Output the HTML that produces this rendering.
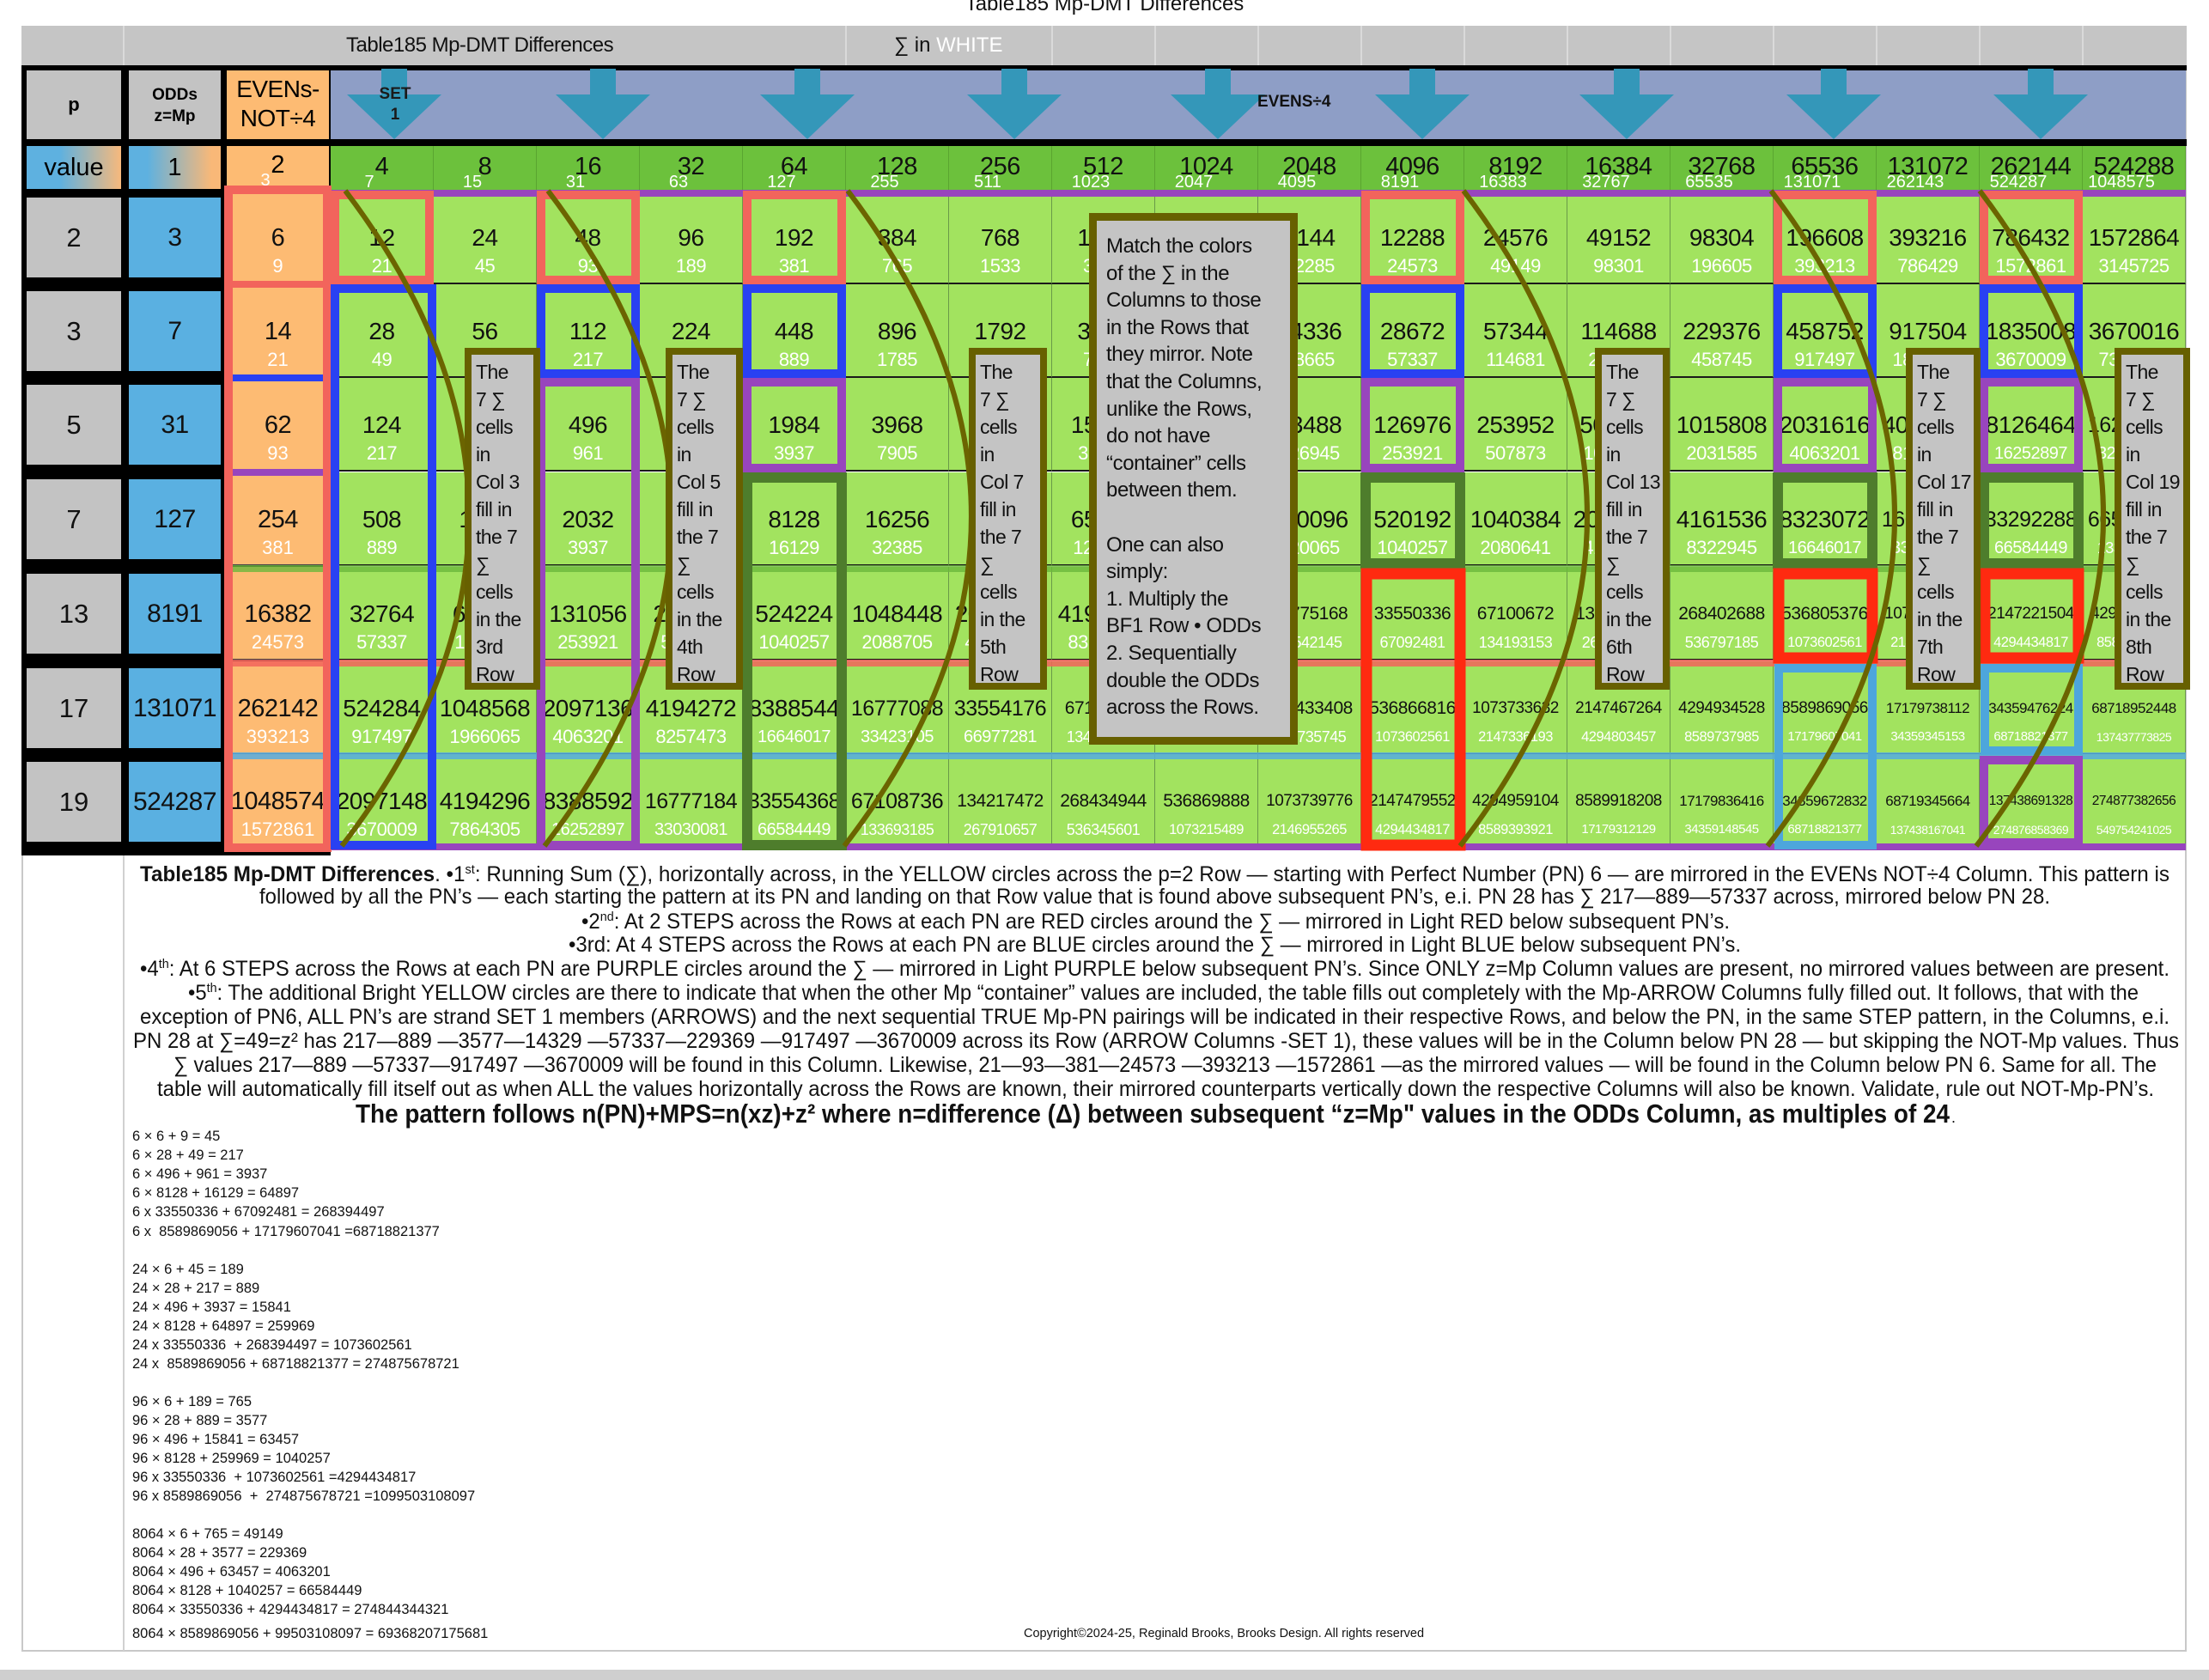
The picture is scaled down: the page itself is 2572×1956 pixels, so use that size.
<!DOCTYPE html>
<html><head><meta charset="utf-8">
<style>
*{margin:0;padding:0;box-sizing:border-box}
body{width:2572px;height:1956px;background:#fff;position:relative;overflow:hidden;font-family:"Liberation Sans Narrow","Liberation Sans",sans-serif}
.a{position:absolute}
.row{position:absolute;left:385px;width:2160px;height:109px;display:flex}
.c{width:120px;height:109px;flex:none;border-right:1px solid #6a9a48;border-bottom:2px solid #1a1a1a;background:#a2e35f;position:relative;text-align:center}
.c b{position:absolute;left:-12px;right:-12px;top:35px;line-height:40px;font-size:28px;font-weight:normal;color:#111;white-space:nowrap;letter-spacing:-0.5px}
.c i{position:absolute;left:-12px;right:-12px;top:73px;line-height:30px;font-size:22px;font-style:normal;color:#fff;white-space:nowrap;letter-spacing:-0.5px}
.c b.a8{font-size:25px}.c b.a9{font-size:21px}.c b.a10{font-size:19px}.c b.a11{font-size:17px}.c b.a12{font-size:15.5px}
.c i.b8{font-size:20px}.c i.b9{font-size:18px}.c i.b10{font-size:16.5px}.c i.b11{font-size:15px}.c i.b12{font-size:14px}
.vr{position:absolute;left:385px;top:170px;width:2160px;height:51px;display:flex;background:#6cc13c}
.v{width:120px;height:51px;flex:none;position:relative;text-align:center;border-right:1px solid #5aa530}
.v b{position:absolute;left:-10px;right:-10px;top:4px;line-height:40px;font-size:29px;font-weight:normal;color:#111;letter-spacing:-0.5px}
.v i{position:absolute;left:0;width:90px;top:30px;line-height:24px;font-size:20px;font-style:normal;color:#fff;text-align:center;white-space:nowrap}
.pc{position:absolute;left:31px;width:110px;height:93px;background:#c3c3c3;font-size:31px;text-align:center;line-height:93px;color:#111}
.oc{position:absolute;left:150px;width:107px;height:93px;background:#5ab0e1;font-size:30px;text-align:center;line-height:93px;color:#111;letter-spacing:-0.5px}
.ec{position:absolute;left:264px;width:119px;height:109px;background:#fdbb73;text-align:center;border-bottom:2px solid #444}
.ec b{position:absolute;left:-6px;right:-6px;top:35px;line-height:40px;font-size:29px;font-weight:normal;color:#111;letter-spacing:-0.5px}
.ec i{position:absolute;left:0;right:0;top:73px;line-height:30px;font-size:22px;font-style:normal;color:#fff}
.box{position:absolute;background:#c4c4c4;border:8px solid #676000;font-size:23px;line-height:32px;color:#111;padding:4px 0 0 5px;white-space:nowrap;letter-spacing:-0.6px;overflow:hidden}
.f{position:absolute;left:154px;font-family:"Liberation Sans",sans-serif;font-size:16.5px;line-height:20px;white-space:nowrap;color:#111}
</style></head><body>

<div class="a" style="left:0;width:2572px;top:-9px;text-align:center;font-size:24px;color:#111">Table185 Mp-DMT Differences</div>

<!-- frame -->
<div class="a" style="left:25px;top:30px;width:2521px;height:1893px;border:2px solid #c8c8c8"></div>
<div class="a" style="left:143px;top:990px;width:2px;height:932px;background:#d0d0d0"></div>
<div class="a" style="left:0;top:1944px;width:2572px;height:12px;background:#cfcfcf"></div>

<!-- gray band -->
<div class="a" style="left:25px;top:30px;width:2521px;height:46px;background:#c5c5c5"></div>
<div class="a" style="left:143px;top:30px;width:2px;height:46px;background:#dadada"></div>
<div class="a" style="left:984px;top:30px;width:2px;height:46px;background:#dadada"></div>
<div class="a" style="left:1224px;top:30px;width:2px;height:46px;background:#dadada"></div>
<div class="a" style="left:1344px;top:30px;width:2px;height:46px;background:#dadada"></div>
<div class="a" style="left:1464px;top:30px;width:2px;height:46px;background:#dadada"></div>
<div class="a" style="left:1584px;top:30px;width:2px;height:46px;background:#dadada"></div>
<div class="a" style="left:1704px;top:30px;width:2px;height:46px;background:#dadada"></div>
<div class="a" style="left:1824px;top:30px;width:2px;height:46px;background:#dadada"></div>
<div class="a" style="left:1944px;top:30px;width:2px;height:46px;background:#dadada"></div>
<div class="a" style="left:2064px;top:30px;width:2px;height:46px;background:#dadada"></div>
<div class="a" style="left:2184px;top:30px;width:2px;height:46px;background:#dadada"></div>
<div class="a" style="left:2304px;top:30px;width:2px;height:46px;background:#dadada"></div>
<div class="a" style="left:2424px;top:30px;width:2px;height:46px;background:#dadada"></div>
<div class="a" style="left:403px;top:39px;font-size:24px;color:#111;letter-spacing:-0.5px">Table185 Mp-DMT Differences</div>
<div class="a" style="left:1041px;top:39px;font-size:24px;color:#111">∑ in <span style="color:#fff">WHITE</span></div>

<!-- black base -->
<div class="a" style="left:25px;top:76px;width:2521px;height:6px;background:#000"></div>
<div class="a" style="left:25px;top:76px;width:360px;height:920px;background:#000"></div>
<div class="a" style="left:25px;top:162px;width:2521px;height:8px;background:#000"></div>
<div class="a" style="left:385px;top:220px;width:2160px;height:3px;background:#111"></div>

<!-- header row -->
<div class="a" style="left:385px;top:82px;width:2160px;height:80px;background:#8e9ec6"></div>
<div class="a" style="left:31px;top:82px;width:110px;height:80px;background:#c3c3c3;text-align:center;line-height:80px;font-size:22px;font-weight:bold">p</div>
<div class="a" style="left:150px;top:82px;width:107px;height:80px;background:#c3c3c3;text-align:center;padding-top:16px;font-size:19px;line-height:25px;font-weight:bold">ODDs<br>z=Mp</div>
<div class="a" style="left:264px;top:82px;width:119px;height:80px;background:#fdbb73;text-align:center;padding-top:5px;font-size:28px;line-height:34px;letter-spacing:-0.5px">EVENs-<br>NOT÷4</div>

<svg class="a" style="left:0;top:0" width="2572" height="170">
<g fill="#3497b9">
<path d="M444 80h30v30h40l-55 52l-55-52h40z"/>
<path d="M687 80h30v30h40l-55 52l-55-52h40z"/>
<path d="M925 80h30v30h40l-55 52l-55-52h40z"/>
<path d="M1166 80h30v30h40l-55 52l-55-52h40z"/>
<path d="M1403 80h30v30h40l-55 52l-55-52h40z"/>
<path d="M1641 80h30v30h40l-55 52l-55-52h40z"/>
<path d="M1879 80h30v30h40l-55 52l-55-52h40z"/>
<path d="M2120 80h30v30h40l-55 52l-55-52h40z"/>
<path d="M2361 80h30v30h40l-55 52l-55-52h40z"/>
</g>
</svg>
<div class="a" style="left:430px;top:98px;width:60px;text-align:center;font-size:19px;line-height:24px;font-weight:bold;color:#1a1a1a">SET<br>1</div>
<div class="a" style="left:1464px;top:108px;font-size:19px;font-weight:bold;color:#111">EVENS÷4</div>

<!-- value row -->
<div class="a" style="left:31px;top:170px;width:110px;height:50px;background:linear-gradient(90deg,#5eb1e0 35%,#f7b97c);text-align:center;line-height:50px;font-size:29px">value</div>
<div class="a" style="left:150px;top:170px;width:107px;height:50px;background:linear-gradient(90deg,#5eb1e0 20%,#f9b878 90%);text-align:center;line-height:50px;font-size:29px">1</div>
<div class="a" style="left:264px;top:170px;width:119px;height:50px;background:#fdbb73;text-align:center;line-height:44px;font-size:29px">2</div>
<div class="a" style="left:264px;top:198px;width:90px;text-align:center;line-height:24px;font-size:20px;color:#fff">3</div>
<div class="vr">
<div class="v"><b>4</b><i>7</i></div><div class="v"><b>8</b><i>15</i></div><div class="v"><b>16</b><i>31</i></div><div class="v"><b>32</b><i>63</i></div><div class="v"><b>64</b><i>127</i></div><div class="v"><b>128</b><i>255</i></div><div class="v"><b>256</b><i>511</i></div><div class="v"><b>512</b><i>1023</i></div><div class="v"><b>1024</b><i>2047</i></div><div class="v"><b>2048</b><i>4095</i></div><div class="v"><b>4096</b><i>8191</i></div><div class="v"><b>8192</b><i>16383</i></div><div class="v"><b>16384</b><i>32767</i></div><div class="v"><b>32768</b><i>65535</i></div><div class="v"><b>65536</b><i>131071</i></div><div class="v"><b>131072</b><i>262143</i></div><div class="v"><b>262144</b><i>524287</i></div><div class="v"><b>524288</b><i>1048575</i></div>
</div>

<!-- left columns data -->
<div class="pc" style="top:230px">2</div><div class="oc" style="top:230px">3</div>
<div class="pc" style="top:339px">3</div><div class="oc" style="top:339px">7</div>
<div class="pc" style="top:448px">5</div><div class="oc" style="top:448px">31</div>
<div class="pc" style="top:558px">7</div><div class="oc" style="top:558px">127</div>
<div class="pc" style="top:668px">13</div><div class="oc" style="top:668px">8191</div>
<div class="pc" style="top:778px">17</div><div class="oc" style="top:778px">131071</div>
<div class="pc" style="top:887px">19</div><div class="oc" style="top:887px">524287</div>

<div class="ec" style="top:222px"><b>6</b><i>9</i></div>
<div class="ec" style="top:331px"><b>14</b><i>21</i></div>
<div class="ec" style="top:440px"><b>62</b><i>93</i></div>
<div class="ec" style="top:550px"><b>254</b><i>381</i></div>
<div class="ec" style="top:660px"><b>16382</b><i>24573</i></div>
<div class="ec" style="top:770px"><b>262142</b><i>393213</i></div>
<div class="ec" style="top:878px"><b>1048574</b><i>1572861</i></div>

<!-- data rows -->
<div class="row" style="top:222px">
<div class="c"><b>12</b><i>21</i></div><div class="c"><b>24</b><i>45</i></div><div class="c"><b>48</b><i>93</i></div><div class="c"><b>96</b><i>189</i></div><div class="c"><b>192</b><i>381</i></div><div class="c"><b>384</b><i>765</i></div><div class="c"><b>768</b><i>1533</i></div><div class="c"><b>1536</b><i>3069</i></div><div class="c"><b>3072</b><i>6141</i></div><div class="c"><b>6144</b><i>12285</i></div><div class="c"><b>12288</b><i>24573</i></div><div class="c"><b>24576</b><i>49149</i></div><div class="c"><b>49152</b><i>98301</i></div><div class="c"><b>98304</b><i>196605</i></div><div class="c"><b>196608</b><i>393213</i></div><div class="c"><b>393216</b><i>786429</i></div><div class="c"><b>786432</b><i>1572861</i></div><div class="c"><b>1572864</b><i>3145725</i></div>
</div>
<div class="row" style="top:331px">
<div class="c"><b>28</b><i>49</i></div><div class="c"><b>56</b><i>105</i></div><div class="c"><b>112</b><i>217</i></div><div class="c"><b>224</b><i>441</i></div><div class="c"><b>448</b><i>889</i></div><div class="c"><b>896</b><i>1785</i></div><div class="c"><b>1792</b><i>3577</i></div><div class="c"><b>3584</b><i>7161</i></div><div class="c"><b>7168</b><i>14329</i></div><div class="c"><b>14336</b><i>28665</i></div><div class="c"><b>28672</b><i>57337</i></div><div class="c"><b>57344</b><i>114681</i></div><div class="c"><b>114688</b><i>229369</i></div><div class="c"><b>229376</b><i>458745</i></div><div class="c"><b>458752</b><i>917497</i></div><div class="c"><b>917504</b><i>1835001</i></div><div class="c"><b>1835008</b><i>3670009</i></div><div class="c"><b>3670016</b><i>7340025</i></div>
</div>
<div class="row" style="top:440px">
<div class="c"><b>124</b><i>217</i></div><div class="c"><b>248</b><i>465</i></div><div class="c"><b>496</b><i>961</i></div><div class="c"><b>992</b><i>1953</i></div><div class="c"><b>1984</b><i>3937</i></div><div class="c"><b>3968</b><i>7905</i></div><div class="c"><b>7936</b><i>15841</i></div><div class="c"><b>15872</b><i>31713</i></div><div class="c"><b>31744</b><i>63457</i></div><div class="c"><b>63488</b><i>126945</i></div><div class="c"><b>126976</b><i>253921</i></div><div class="c"><b>253952</b><i>507873</i></div><div class="c"><b>507904</b><i>1015777</i></div><div class="c"><b>1015808</b><i>2031585</i></div><div class="c"><b>2031616</b><i>4063201</i></div><div class="c"><b>4063232</b><i>8126433</i></div><div class="c"><b>8126464</b><i class="b8">16252897</i></div><div class="c"><b class="a8">16252928</b><i class="b8">32505825</i></div>
</div>
<div class="row" style="top:550px;height:110px">
<div class="c"><b>508</b><i>889</i></div><div class="c"><b>1016</b><i>1905</i></div><div class="c"><b>2032</b><i>3937</i></div><div class="c"><b>4064</b><i>8001</i></div><div class="c"><b>8128</b><i>16129</i></div><div class="c"><b>16256</b><i>32385</i></div><div class="c"><b>32512</b><i>64897</i></div><div class="c"><b>65024</b><i>129921</i></div><div class="c"><b>130048</b><i>259969</i></div><div class="c"><b>260096</b><i>520065</i></div><div class="c"><b>520192</b><i>1040257</i></div><div class="c"><b>1040384</b><i>2080641</i></div><div class="c"><b>2080768</b><i>4161409</i></div><div class="c"><b>4161536</b><i>8322945</i></div><div class="c"><b>8323072</b><i class="b8">16646017</i></div><div class="c"><b class="a8">16646144</b><i class="b8">33292161</i></div><div class="c"><b class="a8">33292288</b><i class="b8">66584449</i></div><div class="c"><b class="a8">66584576</b><i class="b9">133169025</i></div>
</div>
<div class="row" style="top:660px;height:110px">
<div class="c"><b>32764</b><i>57337</i></div><div class="c"><b>65528</b><i>122865</i></div><div class="c"><b>131056</b><i>253921</i></div><div class="c"><b>262112</b><i>516033</i></div><div class="c"><b>524224</b><i>1040257</i></div><div class="c"><b>1048448</b><i>2088705</i></div><div class="c"><b>2096896</b><i>4185601</i></div><div class="c"><b>4193792</b><i>8379393</i></div><div class="c"><b>8387584</b><i class="b8">16766977</i></div><div class="c"><b class="a9">16775168</b><i class="b9">33542145</i></div><div class="c"><b class="a9">33550336</b><i class="b9">67092481</i></div><div class="c"><b class="a9">67100672</b><i class="b9">134193153</i></div><div class="c"><b class="a9">134201344</b><i class="b9">268394497</i></div><div class="c"><b class="a9">268402688</b><i class="b9">536797185</i></div><div class="c"><b class="a9">536805376</b><i class="b10">1073602561</i></div><div class="c"><b class="a10">1073610752</b><i class="b10">2147213313</i></div><div class="c"><b class="a10">2147221504</b><i class="b10">4294434817</i></div><div class="c"><b class="a10">4294443008</b><i class="b10">8588877825</i></div>
</div>
<div class="row" style="top:770px;height:108px">
<div class="c"><b>524284</b><i>917497</i></div><div class="c"><b>1048568</b><i>1966065</i></div><div class="c"><b>2097136</b><i>4063201</i></div><div class="c"><b>4194272</b><i>8257473</i></div><div class="c"><b>8388544</b><i class="b8">16646017</i></div><div class="c"><b class="a8">16777088</b><i class="b8">33423105</i></div><div class="c"><b class="a8">33554176</b><i class="b8">66977281</i></div><div class="c"><b class="a9">67108352</b><i class="b9">134085633</i></div><div class="c"><b class="a9">134216704</b><i class="b9">268302337</i></div><div class="c"><b class="a9">268433408</b><i class="b9">536735745</i></div><div class="c"><b class="a9">536866816</b><i class="b10">1073602561</i></div><div class="c"><b class="a10">1073733632</b><i class="b10">2147336193</i></div><div class="c"><b class="a10">2147467264</b><i class="b10">4294803457</i></div><div class="c"><b class="a10">4294934528</b><i class="b10">8589737985</i></div><div class="c"><b class="a10">8589869056</b><i class="b11">17179607041</i></div><div class="c"><b class="a11">17179738112</b><i class="b11">34359345153</i></div><div class="c"><b class="a11">34359476224</b><i class="b11">68718821377</i></div><div class="c"><b class="a11">68718952448</b><i class="b12">137437773825</i></div>
</div>
<div class="row" style="top:878px;height:107px">
<div class="c"><b>2097148</b><i>3670009</i></div><div class="c"><b>4194296</b><i>7864305</i></div><div class="c"><b>8388592</b><i class="b8">16252897</i></div><div class="c"><b class="a8">16777184</b><i class="b8">33030081</i></div><div class="c"><b class="a8">33554368</b><i class="b8">66584449</i></div><div class="c"><b class="a8">67108736</b><i class="b9">133693185</i></div><div class="c"><b class="a9">134217472</b><i class="b9">267910657</i></div><div class="c"><b class="a9">268434944</b><i class="b9">536345601</i></div><div class="c"><b class="a9">536869888</b><i class="b10">1073215489</i></div><div class="c"><b class="a10">1073739776</b><i class="b10">2146955265</i></div><div class="c"><b class="a10">2147479552</b><i class="b10">4294434817</i></div><div class="c"><b class="a10">4294959104</b><i class="b10">8589393921</i></div><div class="c"><b class="a10">8589918208</b><i class="b11">17179312129</i></div><div class="c"><b class="a11">17179836416</b><i class="b11">34359148545</i></div><div class="c"><b class="a11">34359672832</b><i class="b11">68718821377</i></div><div class="c"><b class="a11">68719345664</b><i class="b12">137438167041</i></div><div class="c"><b class="a12">137438691328</b><i class="b12">274876858369</i></div><div class="c"><b class="a12">274877382656</b><i class="b12">549754241025</i></div>
</div>

<!-- overlays -->
<svg class="a" style="left:0;top:0" width="2572" height="1000">
<g fill="none" stroke-width="8">
<line x1="385" y1="225" x2="2545" y2="225" stroke="#9845bd"/>
<line x1="262" y1="986" x2="2545" y2="986" stroke="#9845bd"/>
<line x1="262" y1="772" x2="2545" y2="772" stroke="#f2645c" opacity=".85"/>
<line x1="262" y1="880" x2="2545" y2="880" stroke="#55ace0" opacity=".85"/>
<line x1="262" y1="662" x2="2545" y2="662" stroke="#6cb83c" opacity=".8"/>
<line x1="262" y1="331" x2="386" y2="331" stroke="#f2645c"/>
<line x1="262" y1="440" x2="386" y2="440" stroke="#2941f2"/>
<line x1="262" y1="550" x2="386" y2="550" stroke="#9845bd"/>
</g>
<g fill="none" stroke-width="10">
<rect x="266" y="221" width="115" height="766" stroke="#f2645c"/>
<g stroke="#f2645c">
<rect x="390" y="227" width="110" height="99"/><rect x="630" y="227" width="110" height="99"/><rect x="870" y="227" width="110" height="99"/><rect x="1590" y="227" width="110" height="99"/><rect x="2070" y="227" width="110" height="99"/><rect x="2310" y="227" width="110" height="99"/>
</g>
<g stroke="#2941f2">
<rect x="390" y="336" width="113" height="648"/>
<rect x="630" y="336" width="110" height="99"/><rect x="870" y="336" width="110" height="99"/><rect x="1590" y="336" width="110" height="99"/><rect x="2070" y="336" width="110" height="99"/><rect x="2310" y="336" width="110" height="99"/>
</g>
<g stroke="#9845bd">
<rect x="630" y="445" width="110" height="539"/>
<rect x="870" y="445" width="110" height="100"/><rect x="1590" y="445" width="110" height="100"/><rect x="2070" y="445" width="110" height="100"/><rect x="2310" y="445" width="110" height="100"/>
<rect x="2310" y="885" width="110" height="96"/>
</g>
<g stroke="#4e7d2c" stroke-width="12">
<rect x="870" y="556" width="110" height="428"/>
<rect x="1590" y="556" width="110" height="100"/><rect x="2070" y="556" width="110" height="100"/><rect x="2310" y="556" width="110" height="100"/>
</g>
<g stroke="#ff2a10" stroke-width="13">
<rect x="1591" y="668" width="109" height="316"/>
<rect x="2071" y="668" width="109" height="98"/><rect x="2311" y="668" width="109" height="98"/>
</g>
<g stroke="#4da6dc">
<rect x="2071" y="778" width="109" height="206"/>
<rect x="2311" y="778" width="109" height="96"/>
</g>
</g>
<g fill="none" stroke="#6b6400" stroke-width="6">
<path d="M402 222 Q692 604 398 985"/>
<path d="M638 222 Q928 604 634 985"/>
<path d="M987 222 Q1277 604 983 985"/>
<path d="M1704 222 Q1994 604 1700 985"/>
<path d="M2062 222 Q2352 604 2058 985"/>
<path d="M2305 222 Q2595 604 2301 985"/>
</g>
</svg>

<!-- text boxes -->
<div class="box" style="left:541px;top:405px;width:88px;height:398px">The<br>7 ∑<br>cells<br>in<br>Col 3<br>fill in<br>the 7<br>∑<br>cells<br>in the<br>3rd<br>Row</div>
<div class="box" style="left:775px;top:405px;width:90px;height:398px">The<br>7 ∑<br>cells<br>in<br>Col 5<br>fill in<br>the 7<br>∑<br>cells<br>in the<br>4th<br>Row</div>
<div class="box" style="left:1128px;top:405px;width:91px;height:398px">The<br>7 ∑<br>cells<br>in<br>Col 7<br>fill in<br>the 7<br>∑<br>cells<br>in the<br>5th<br>Row</div>
<div class="box" style="left:1857px;top:405px;width:87px;height:398px">The<br>7 ∑<br>cells<br>in<br>Col 13<br>fill in<br>the 7<br>∑<br>cells<br>in the<br>6th<br>Row</div>
<div class="box" style="left:2219px;top:405px;width:87px;height:398px">The<br>7 ∑<br>cells<br>in<br>Col 17<br>fill in<br>the 7<br>∑<br>cells<br>in the<br>7th<br>Row</div>
<div class="box" style="left:2462px;top:405px;width:88px;height:398px">The<br>7 ∑<br>cells<br>in<br>Col 19<br>fill in<br>the 7<br>∑<br>cells<br>in the<br>8th<br>Row</div>
<div class="box" style="left:1268px;top:248px;width:243px;height:619px;border-width:9px;padding:14px 0 0 11px;line-height:31.6px;font-size:24px;letter-spacing:-0.4px">Match the colors<br>of the ∑ in the<br>Columns to those<br>in the Rows that<br>they mirror. Note<br>that the Columns,<br>unlike the Rows,<br>do not have<br>“container” cells<br>between them.<br><br>One can also<br>simply:<br>1. Multiply the<br>BF1 Row • ODDs<br>2. Sequentially<br>double the ODDs<br>across the Rows.</div>

<!-- description -->
<svg class="a" style="left:0;top:990px" width="2572" height="330" font-family="Liberation Sans, sans-serif" font-size="25" fill="#111">
<text x="163" y="36" textLength="2363" lengthAdjust="spacingAndGlyphs"><tspan font-weight="bold">Table185 Mp-DMT Differences</tspan>.   •1<tspan font-size="15" dy="-9">st</tspan><tspan dy="9">:  Running Sum (∑), horizontally across, in the YELLOW circles across the p=2 Row — starting with Perfect Number (PN) 6 —  are mirrored in the EVENs NOT÷4 Column. This pattern is</tspan></text>
<text x="302" y="62" textLength="2085" lengthAdjust="spacingAndGlyphs">followed by all the PN’s — each starting the pattern at its PN and landing on that Row value that is found above subsequent PN’s, e.i. PN 28 has ∑ 217—889—57337 across, mirrored below PN 28.</text>
<text x="677" y="91" textLength="1337" lengthAdjust="spacingAndGlyphs">•2<tspan font-size="15" dy="-9">nd</tspan><tspan dy="9">: At 2 STEPS across the Rows at each PN are RED circles around the ∑ — mirrored in Light RED below subsequent PN’s.</tspan></text>
<text x="662" y="118" textLength="1365" lengthAdjust="spacingAndGlyphs">•3rd: At 4 STEPS across the Rows at each PN are BLUE circles around the ∑ — mirrored in Light BLUE below subsequent PN’s.</text>
<text x="163" y="146" textLength="2363" lengthAdjust="spacingAndGlyphs">•4<tspan font-size="15" dy="-9">th</tspan><tspan dy="9">: At 6 STEPS across the Rows at each PN are PURPLE circles around the ∑ — mirrored in Light PURPLE below subsequent PN’s. Since ONLY z=Mp Column values are present, no mirrored values between are present.</tspan></text>
<text x="219" y="174" textLength="2271" lengthAdjust="spacingAndGlyphs">•5<tspan font-size="15" dy="-9">th</tspan><tspan dy="9">: The additional Bright YELLOW circles are there to indicate that when the other Mp “container” values are included, the table fills out completely with the Mp-ARROW Columns fully filled out. It follows, that with the</tspan></text>
<text x="163" y="202" textLength="2363" lengthAdjust="spacingAndGlyphs">exception of PN6, ALL PN’s are strand SET 1 members (ARROWS) and the next sequential TRUE Mp-PN pairings will be indicated in their respective Rows, and below the PN, in the same STEP pattern, in the Columns, e.i.</text>
<text x="155" y="230" textLength="2382" lengthAdjust="spacingAndGlyphs">PN 28 at ∑=49=z² has 217—889 —3577—14329 —57337—229369 —917497 —3670009 across its Row (ARROW Columns -SET 1), these values will be in the Column below PN 28 — but skipping the NOT-Mp values. Thus</text>
<text x="202" y="258" textLength="2309" lengthAdjust="spacingAndGlyphs">∑ values 217—889 —57337—917497 —3670009 will be found in this Column. Likewise, 21—93—381—24573 —393213 —1572861 —as the mirrored values — will be found in the Column below PN 6. Same for all. The</text>
<text x="183" y="286" textLength="2325" lengthAdjust="spacingAndGlyphs">table will automatically fill itself out as when ALL the values horizontally across the Rows are known, their mirrored counterparts vertically down the respective Columns will also be known. Validate, rule out NOT-Mp-PN’s.</text>
<text x="414" y="317" font-size="31" font-weight="bold" textLength="1856" lengthAdjust="spacingAndGlyphs">The pattern follows n(PN)+MPS=n(xz)+z² where n=difference (Δ) between subsequent “z=Mp" values in the ODDs Column, as multiples of 24</text>
<text x="2272" y="317" font-size="18">.</text>
</svg>

<!-- formulas -->
<div class="f" style="top:1313px">6 × 6 + 9 = 45</div>
<div class="f" style="top:1335px">6 × 28 + 49 = 217</div>
<div class="f" style="top:1357px">6 × 496 + 961 = 3937</div>
<div class="f" style="top:1379px">6 × 8128 + 16129 = 64897</div>
<div class="f" style="top:1401px">6 x 33550336 + 67092481 = 268394497</div>
<div class="f" style="top:1424px">6 x&nbsp; 8589869056 + 17179607041 =68718821377</div>

<div class="f" style="top:1468px">24 × 6 + 45 = 189</div>
<div class="f" style="top:1490px">24 × 28 + 217 = 889</div>
<div class="f" style="top:1512px">24 × 496 + 3937 = 15841</div>
<div class="f" style="top:1534px">24 × 8128 + 64897 = 259969</div>
<div class="f" style="top:1556px">24 x 33550336&nbsp; + 268394497 = 1073602561</div>
<div class="f" style="top:1578px">24 x&nbsp; 8589869056 + 68718821377 = 274875678721</div>

<div class="f" style="top:1622px">96 × 6 + 189 = 765</div>
<div class="f" style="top:1644px">96 × 28 + 889 = 3577</div>
<div class="f" style="top:1666px">96 × 496 + 15841 = 63457</div>
<div class="f" style="top:1688px">96 × 8128 + 259969 = 1040257</div>
<div class="f" style="top:1710px">96 x 33550336&nbsp; + 1073602561 =4294434817</div>
<div class="f" style="top:1732px">96 x 8589869056&nbsp; +&nbsp; 274875678721 =1099503108097</div>

<div class="f" style="top:1776px">8064 × 6 + 765 = 49149</div>
<div class="f" style="top:1798px">8064 × 28 + 3577 = 229369</div>
<div class="f" style="top:1820px">8064 × 496 + 63457 = 4063201</div>
<div class="f" style="top:1842px">8064 × 8128 + 1040257 = 66584449</div>
<div class="f" style="top:1864px">8064 × 33550336 + 4294434817 = 274844344321</div>
<div class="f" style="top:1892px">8064 × 8589869056 + 99503108097 = 69368207175681</div>

<div class="a" style="left:1060px;width:730px;top:1894px;text-align:center;font-family:'Liberation Sans',sans-serif;font-size:14.5px;color:#111">Copyright©2024-25, Reginald Brooks, Brooks Design. All rights reserved</div>

</body></html>
